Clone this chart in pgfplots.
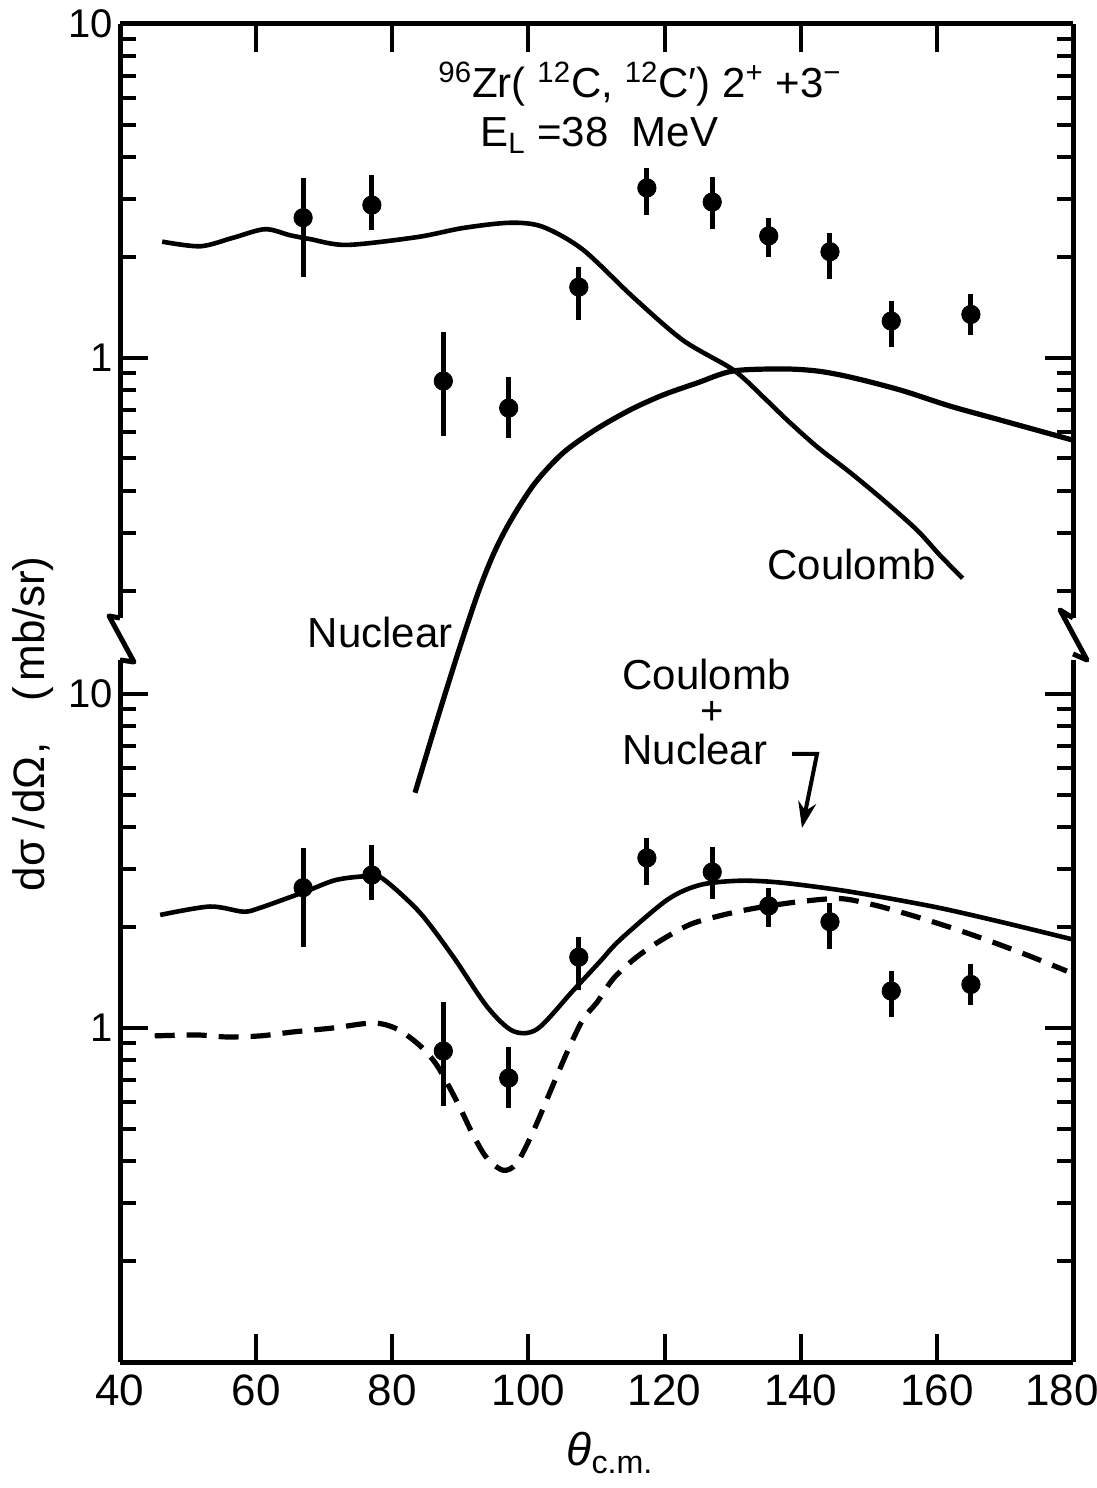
\documentclass[border=0pt]{standalone}
\usepackage{fontspec}
\setmainfont{Liberation Sans}
\usepackage{pgfplots}
\pgfplotsset{compat=1.18}
\usepackage{pgfplotstable}
\usetikzlibrary{arrows.meta}

% measured cross sections (mb/sr) with asymmetric errors
\pgfplotstableread{
x     y     ep    em
66.9  2.63  0.83  0.88
77.0  2.87  0.66  0.45
87.5  0.853 0.343 0.269
97.1  0.708 0.169 0.132
107.4 1.63  0.243 0.33
117.4 3.23  0.47  0.55
127.0 2.93  0.55  0.50
135.3 2.32  0.31  0.31
144.3 2.08  0.29  0.36
153.3 1.29  0.19  0.21
165.0 1.35  0.20  0.18
}\meastab

% Coulomb excitation alone
\pgfplotstableread{
x     y
46.2  2.23
51.8  2.16
56.6  2.29
61.3  2.43
65.0  2.33
67.9  2.27
73.3  2.18
83.6  2.30
90.4  2.45
97.3  2.54
102.1 2.47
108.0 2.11
115.4 1.52
122.7 1.13
130.1 0.921
134.5 0.764
138.0 0.652
142.4 0.542
147.2 0.455
152.1 0.376
157.1 0.305
160.5 0.256
163.8 0.219
}\coultab

% nuclear excitation alone
\pgfplotstableread{
x      y
83.34  0.0499
86.57  0.0824
89.65  0.1308
92.59  0.1978
94.94  0.2607
97.44  0.3273
100.97 0.4223
105.08 0.5195
109.78 0.6088
114.92 0.6987
119.77 0.7748
124.77 0.8415
130.05 0.914
137.4  0.927
142.4  0.914
147.2  0.877
154.6  0.802
161.9  0.718
169.3  0.652
179.9  0.568
}\nucltab

% Coulomb + nuclear, full calculation
\pgfplotstableread{
x     y
45.9  2.18
53.2  2.31
58.1  2.23
60.6  2.29
67.2  2.56
71.9  2.78
77.2  2.85
79.2  2.74
84.1  2.21
88.9  1.64
93.9  1.16
97.7  0.98
101.3 0.993
106.5 1.29
110.5 1.58
113.5 1.84
120.4 2.42
125.2 2.68
131.1 2.76
137.4 2.72
147.2 2.56
159.4 2.31
169.3 2.08
180.0 1.84
}\fulltab

% Coulomb + nuclear, second calculation (dashed)
\pgfplotstableread{
x     y
45.1  0.947
51.3  0.953
55.7  0.940
60.6  0.947
65.4  0.973
71.3  1.00
77.2  1.035
80.7  0.993
84.1  0.884
86.6  0.771
89.5  0.602
91.9  0.477
93.9  0.408
96.3  0.375
98.3  0.394
100.7 0.490
103.2 0.645
105.7 0.848
108.0 1.06
110.1 1.195
112.4 1.40
115.4 1.60
118.9 1.80
123.7 2.04
128.6 2.18
133.6 2.29
139.9 2.39
145.8 2.44
150.6 2.34
156.1 2.18
162.0 2.00
167.8 1.82
173.7 1.64
179.1 1.48
}\dashtab

\newcommand\pxy[2]{({#1*0.5pt},{(1488-#2)*0.5pt})}
\newcommand\lab{\fontsize{21}{25}\selectfont}

\pgfplotsset{
  mypanel/.style={
    scale only axis, width=476.5pt,
    xmin=40, xmax=180,
    axis y line*=box,
    axis line style={line width=2.5pt,-},
    tick align=inside,
    xtick={40,60,80,100,120,140,160,180},
    ytick={1,10}, yticklabels={1,10},
    minor ytick={0.2,0.3,0.4,0.5,0.6,0.7,0.8,0.9,2,3,4,5,6,7,8,9},
    major tick length=14pt, minor tick length=8pt,
    tick style={line width=2pt,black},
    yticklabel style={font=\fontsize{20}{24}\selectfont},
    xticklabel style={font=\fontsize{22}{26}\selectfont, yshift=-3pt},
    clip=false,
  },
  mypts/.style={only marks, mark=*, mark size=4.6pt, black,
    error bars/.cd, y dir=both, y explicit,
    error mark=none, error bar style={line width=2.5pt}},
  mycrv/.style={black, line width=2.3pt, smooth, tension=0.5, no marks},
}

\begin{document}
\begin{tikzpicture}
\path[use as bounding box] (0,0) rectangle (548.5pt,744pt);

% upper panel: separate Coulomb and nuclear contributions
\begin{axis}[ymode=log, mypanel, axis x line*=top, xticklabels={},
  height=297pt, ymin=0.1665, ymax=10,
  at={(60pt,435pt)}, anchor=south west]
  \addplot[mycrv] table {\coultab};
  \addplot[mycrv, line width=2.6pt] table {\nucltab};
  \addplot[mypts] table[x=x, y=y, y error plus=ep, y error minus=em] {\meastab};
\end{axis}

% lower panel: coherent sum
\begin{axis}[ymode=log, mypanel, axis x line*=bottom,
  xticklabels={40,60,80,100,120,140,160,\hspace*{-11pt}180},
  height=351pt, ymin=0.1, ymax=12.64,
  at={(60pt,63pt)}, anchor=south west]
  \addplot[mycrv] table {\fulltab};
  \addplot[mycrv, dash pattern=on 10pt off 6pt, line width=2.6pt] table {\dashtab};
  \addplot[mypts] table[x=x, y=y, y error plus=ep, y error minus=em] {\meastab};
\end{axis}

% axis breaks
\draw[line width=2.5pt, line join=round]
  \pxy{120}{618} -- \pxy{109}{616} -- \pxy{134}{662} -- \pxy{120}{660};
\draw[line width=2.5pt, line join=round]
  \pxy{1073}{618} -- \pxy{1060}{610} -- \pxy{1087}{660} -- \pxy{1073}{654};

% annotations
\node[anchor=base west, inner sep=0] at \pxy{438}{98}
  {\lab\textsuperscript{96}Zr( \textsuperscript{12}C, \textsuperscript{12}C′) 2\textsuperscript{+} +3\textsuperscript{−}};
\node[anchor=base west, inner sep=0] at \pxy{480}{147}
  {\lab E\textsubscript{L} =38\ \ MeV};
\node[anchor=base west, inner sep=0] at \pxy{767}{580} {\lab Coulomb};
\node[anchor=base east, inner sep=0] at \pxy{453}{648} {\lab Nuclear};
\node[anchor=base west, inner sep=0, align=left, font=\lab] at \pxy{622}{765}
  {Coulomb\\[-7.5pt]\hspace*{39pt}{\fontsize{20}{20}\selectfont +}\\[-5pt]Nuclear};
\draw[line width=2pt, -{Stealth[length=13pt,width=9pt]}]
  \pxy{792}{754} -- \pxy{817}{754} -- \pxy{802}{828};

% axis titles
\node[rotate=90, anchor=base, inner sep=0] at \pxy{44}{724}
  {\fontsize{22}{26}\selectfont dσ\hspace{5pt}/\hspace{2pt}dΩ\hspace{1pt},\hspace{20pt}(\hspace{3pt}mb/sr)};
\node[anchor=base, inner sep=0] at \pxy{610}{1466}
  {\fontsize{23}{27}\selectfont\textit{θ}\textsubscript{c.m.}};
\end{tikzpicture}
\end{document}
